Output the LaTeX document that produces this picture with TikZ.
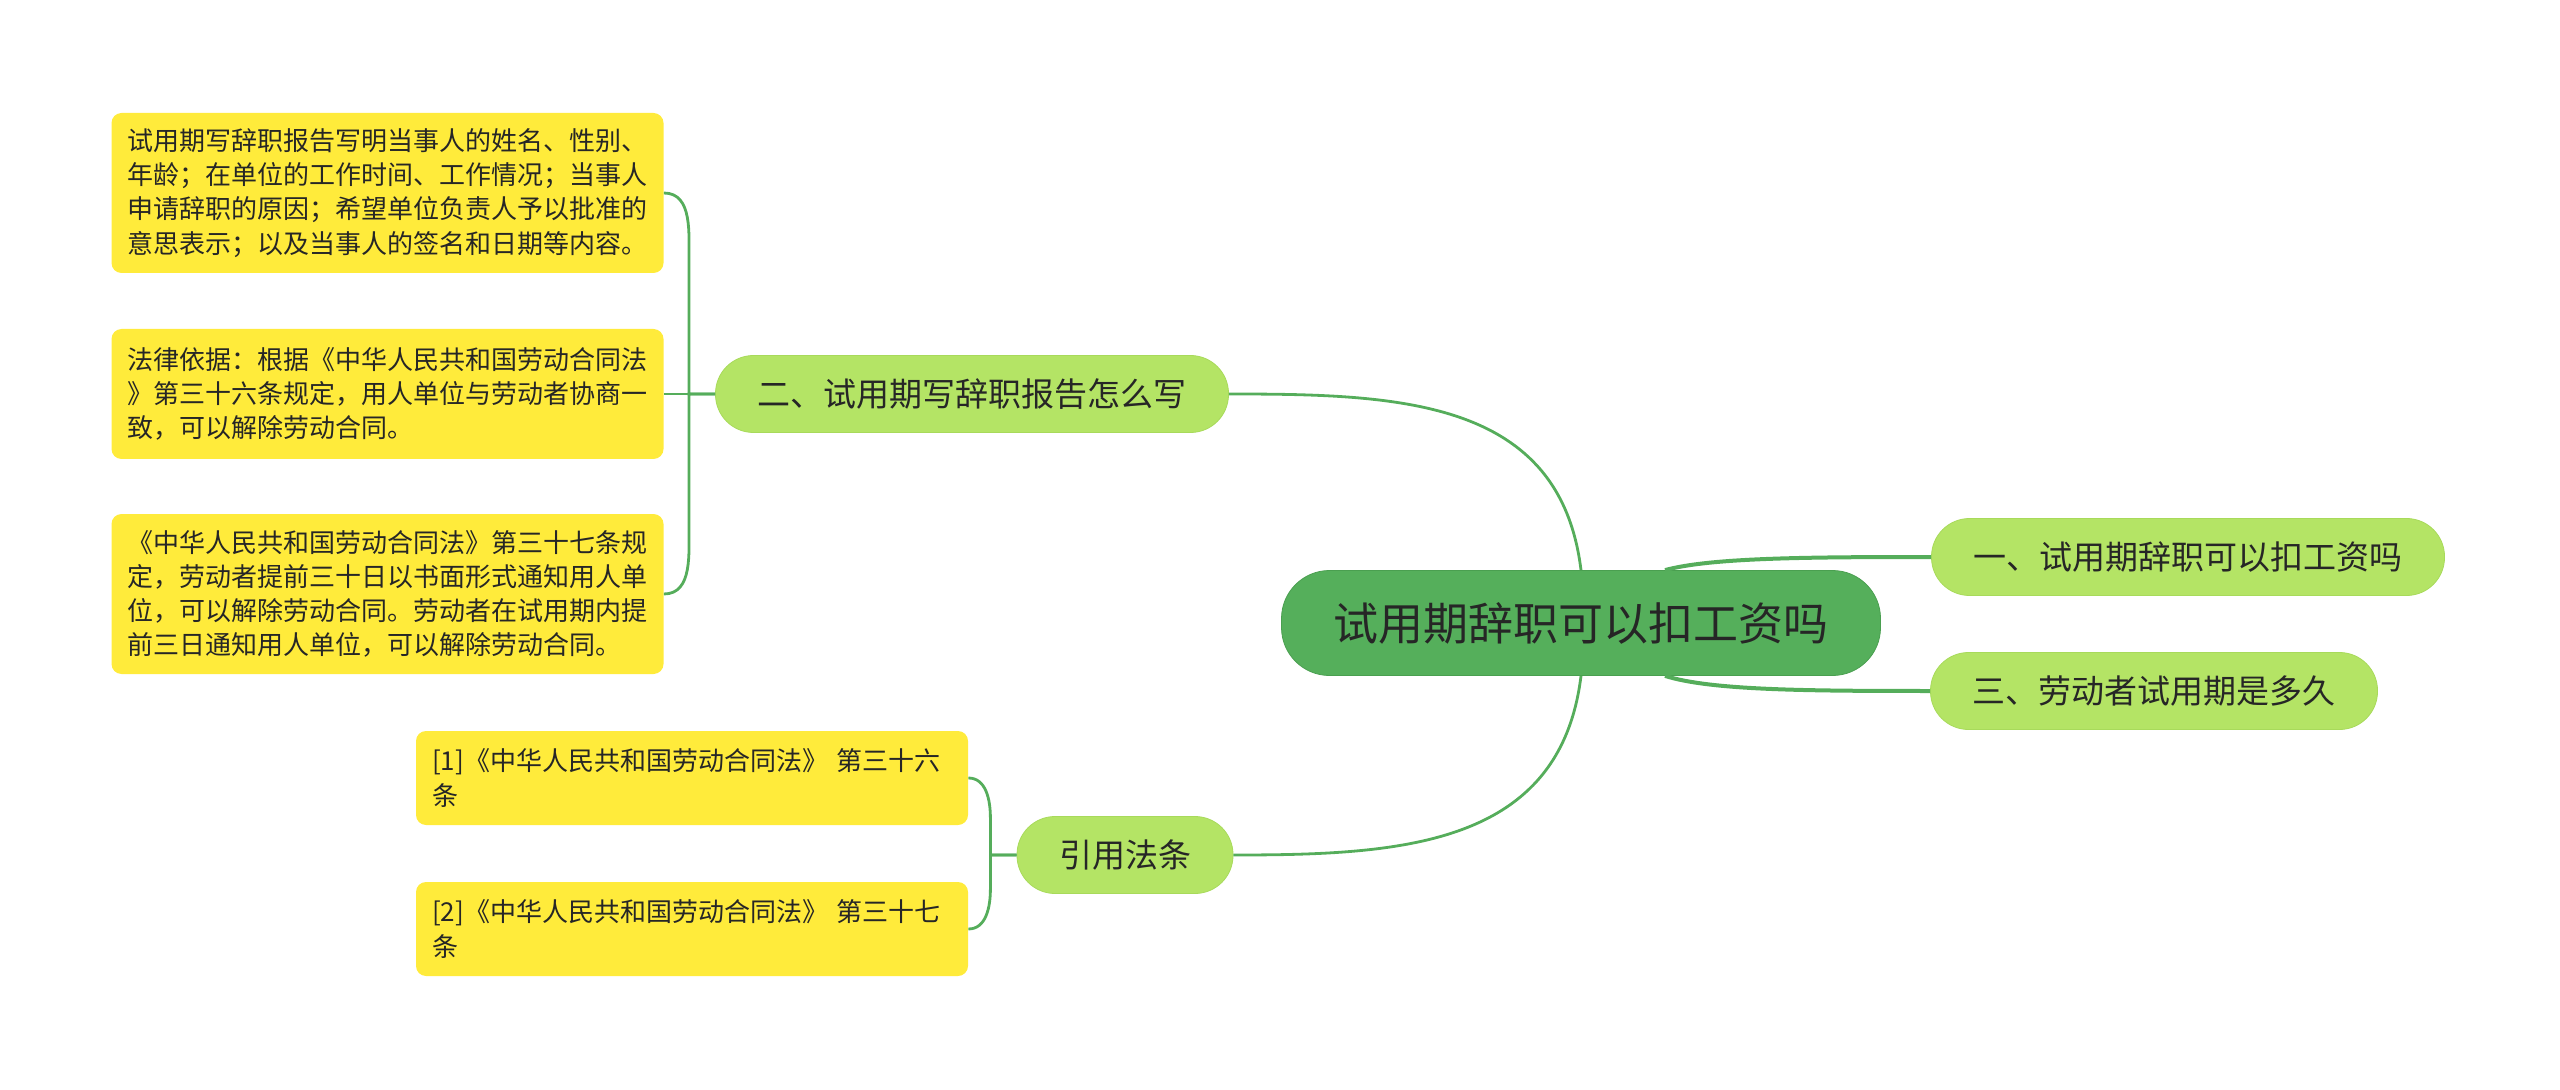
\documentclass[tikz,border=0pt]{standalone}
\usepackage{fontspec}
\setmainfont{Noto Sans CJK SC}
\usepackage{tikz}
\usetikzlibrary{calc}
\definecolor{rootFill}{HTML}{55AF5B}
\definecolor{rootFrame}{HTML}{4A9F50}
\definecolor{topicFill}{HTML}{B4E465}
\definecolor{topicFrame}{HTML}{A8DA5B}
\definecolor{noteFill}{HTML}{FFEB3B}
\definecolor{linkColor}{HTML}{55AD5B}
\definecolor{textColor}{HTML}{262626}

\begin{document}
\begin{tikzpicture}[x=0.5pt, y=0.5pt,
    rootNode/.style={fill=rootFill, draw=rootFrame, rounded corners=24pt,
        minimum width=299.5pt, minimum height=52.5pt,
        font=\fontsize{22.5}{27}\selectfont, text=textColor},
    topicNode/.style={fill=topicFill, draw=topicFrame, rounded corners=19pt,
        inner xsep=21pt, minimum height=38.5pt,
        font=\fontsize{16.5}{20}\selectfont, text=textColor},
    noteNode/.style={fill=noteFill, rounded corners=5pt, text width=260pt,
        inner xsep=8pt, align=left,
        font=\fontsize{13}{17.1}\selectfont, text=textColor},
    link/.style={draw=linkColor, line width=1.4pt},
    mainLink/.style={draw=linkColor, line width=2pt}]
    \useasboundingbox (0,0) rectangle (2560,1089);

    \node[rootNode] (root) at (1581,466) {试用期辞职可以扣工资吗};
    \node[topicNode] (n1) at (2188,532) {一、试用期辞职可以扣工资吗};
    \node[topicNode] (n3) at (2154,398) {三、劳动者试用期是多久};
    \node[topicNode] (n2) at (972,695) {二、试用期写辞职报告怎么写};
    \node[topicNode] (cite) at (1125,234) {引用法条};

    \node[noteNode, minimum height=80pt] (box1) at (387.5,896)
        {试用期写辞职报告写明当事人的姓名、性别、\\
         年龄；在单位的工作时间、工作情况；当事人\\
         申请辞职的原因；希望单位负责人予以批准的\\
         意思表示；以及当事人的签名和日期等内容。};
    \node[noteNode, minimum height=65pt] (box2) at (387.5,695)
        {法律依据：根据《中华人民共和国劳动合同法\\
         》第三十六条规定，用人单位与劳动者协商一\\
         致，可以解除劳动合同。};
    \node[noteNode, minimum height=80pt] (box3) at (387.5,495)
        {《中华人民共和国劳动合同法》第三十七条规\\
         定，劳动者提前三十日以书面形式通知用人单\\
         位，可以解除劳动合同。劳动者在试用期内提\\
         前三日通知用人单位，可以解除劳动合同。};
    \node[noteNode, minimum height=47pt] (ref1) at (692,311)
        {[1]《中华人民共和国劳动合同法》 第三十六\\条};
    \node[noteNode, minimum height=47pt] (ref2) at (692,160)
        {[2]《中华人民共和国劳动合同法》 第三十七\\条};

    \draw[link] (root.north) .. controls (1560,690) and (1400,695) .. (n2.east);
    \draw[link] (root.south) .. controls (1560,242) and (1400,234) .. (cite.east);
    \draw[mainLink] ([xshift=42pt]root.north) .. controls (1710,531) and (1800,532) .. (n1.west);
    \draw[mainLink] ([xshift=42pt]root.south) .. controls (1710,399) and (1800,398) .. (n3.west);

    \draw[link] (box2.east) -- (n2.west);
    \draw[link] (box1.east) to[out=0, in=90] ++(25,-70) |- (n2.west);
    \draw[link] (box3.east) to[out=0, in=-90] ++(25,70) |- (n2.west);
    \draw[link] (ref1.east) to[out=0, in=90] ++(22,-40) |- (cite.west);
    \draw[link] (ref2.east) to[out=0, in=-90] ++(22,40) |- (cite.west);
\end{tikzpicture}
\end{document}
